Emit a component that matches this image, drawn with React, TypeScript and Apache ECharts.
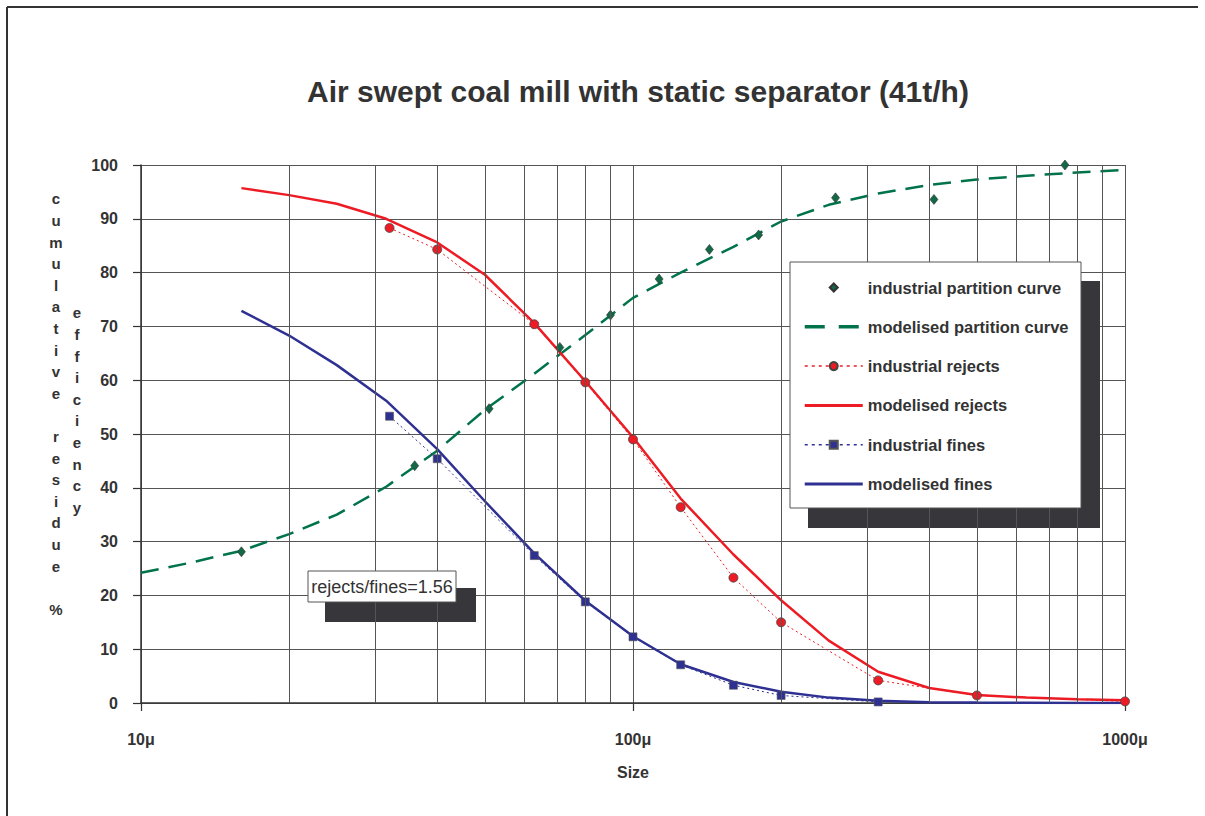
import React, { useEffect, useRef } from "react";
import * as echarts from "echarts";

const FONT = "'Liberation Sans', Arial, Helvetica, sans-serif";

// ---- data ----
const modelSizes = [10, 12.5, 16, 20, 25, 31.5, 40, 50, 63, 80, 100, 125, 160, 200, 250, 315, 400, 500, 630, 800, 1000];
const modelPartition = [24.2, 26.0, 28.3, 31.4, 35.0, 40.2, 46.9, 54.5, 61.2, 68.4, 75.3, 80.0, 84.8, 89.5, 92.6, 94.7, 96.3, 97.3, 98.0, 98.6, 99.1];
const modelRejects = [null, null, 95.7, 94.4, 92.8, 90.0, 85.6, 79.6, 70.6, 59.8, 49.4, 38.0, 27.6, 19.1, 11.6, 5.8, 2.8, 1.5, 1.0, 0.7, 0.5];
const modelFines = [null, null, 72.9, 68.3, 62.8, 56.2, 47.2, 37.5, 27.8, 19.0, 12.4, 7.2, 3.9, 2.1, 1.0, 0.4, 0.15, 0.08, 0.04, 0.02, 0.0];

const partitionSizes = [16, 36, 51, 71, 90, 113, 143, 180, 258, 409, 755];
const partitionValues = [28.1, 44.1, 54.7, 66.1, 72.1, 78.8, 84.3, 87.0, 93.9, 93.6, 100];

const rejectSizes = [32, 40, 63, 80, 100, 125, 160, 200, 315, 500, 1000];
const industrialRejects = [88.3, 84.3, 70.4, 59.6, 49.0, 36.4, 23.3, 15.0, 4.2, 1.4, 0.3];

const fineSizes = [32, 40, 63, 80, 100, 125, 160, 200, 315];
const industrialFines = [53.3, 45.4, 27.4, 18.8, 12.3, 7.1, 3.3, 1.4, 0.2];

const minorGridSizes = [20, 30, 40, 50, 60, 70, 80, 90, 200, 300, 400, 500, 600, 700, 800, 900];
const xRange = [10, 1000];
const yRange = [0, 100];
const yInterval = 10;
const sizeUnit = "μ";

const legendNames = [
  "industrial partition curve",
  "modelised partition curve",
  "industrial rejects",
  "modelised rejects",
  "industrial fines",
  "modelised fines",
];

const titleText = "Air swept coal mill with static separator (41t/h)";
const yNameLeft = "cumulative residue %";
const yNameRight = "efficiency";
const noteText = "rejects/fines=1.56";

const RED = "#ed1c24";
const BLUE = "#2e3192";
const GREEN = "#00734a";
const TEXT = "#333333";

function pairs(xs: number[], ys: (number | null)[]) {
  const out: [number, number][] = [];
  xs.forEach((x, i) => {
    const y = ys[i];
    if (y !== null && y !== undefined) out.push([x, y]);
  });
  return out;
}

function stack(s: string) {
  return s.split("").map((c) => (c === " " ? "" : c)).join("\n");
}

// legend icon styling per entry (line style in the icon, hidden symbol for modelled curves)
const legendIconStyles: Record<string, any> = {
  "industrial partition curve": {},
  "modelised partition curve": { itemStyle: { opacity: 0 }, lineStyle: { width: 3.5, type: [20, 14] } },
  "industrial rejects": { lineStyle: { width: 1.5, type: [3, 4] } },
  "modelised rejects": { itemStyle: { opacity: 0 }, lineStyle: { width: 3 } },
  "industrial fines": { lineStyle: { width: 1.5, type: [3, 4] } },
  "modelised fines": { itemStyle: { opacity: 0 }, lineStyle: { width: 3 } },
};

export default function App() {
  const ref = useRef<HTMLDivElement>(null);

  useEffect(() => {
    if (!ref.current) return;
    const chart = echarts.init(ref.current, undefined, { renderer: "svg" });

    const option: any = {
      animation: false,
      backgroundColor: "#ffffff",
      textStyle: { fontFamily: FONT },
      title: {
        text: titleText,
        left: 633,
        top: 71,
        textAlign: "center",
        textStyle: { fontFamily: FONT, fontSize: 30, fontWeight: "bold", color: TEXT },
      },
      grid: { left: 141, right: 80, top: 165, bottom: 113, containLabel: false },
      xAxis: {
        type: "log",
        logBase: 10,
        min: xRange[0],
        max: xRange[1],
        name: "Size",
        nameLocation: "middle",
        nameGap: 61,
        nameTextStyle: { fontFamily: FONT, fontSize: 16, fontWeight: "bold", color: TEXT },
        axisLine: { show: true, lineStyle: { color: "#333", width: 1.5 } },
        axisTick: { show: true, length: 8, lineStyle: { color: "#333", width: 1.2 } },
        axisLabel: {
          margin: 28,
          fontFamily: FONT,
          fontSize: 16,
          fontWeight: "bold",
          color: TEXT,
          formatter: (v: number) => `${v}${sizeUnit}`,
        },
        splitLine: { show: true, lineStyle: { color: "#555", width: 1 } },
        minorTick: { show: false },
        minorSplitLine: { show: false },
      },
      yAxis: {
        type: "value",
        min: yRange[0],
        max: yRange[1],
        interval: yInterval,
        axisLine: { show: true, lineStyle: { color: "#333", width: 1.5 } },
        axisTick: { show: true, length: 8, lineStyle: { color: "#333", width: 1.2 } },
        axisLabel: { margin: 23, fontFamily: FONT, fontSize: 16, fontWeight: "bold", color: TEXT },
        splitLine: { show: true, lineStyle: { color: "#555", width: 1 } },
      },
      legend: {
        data: legendNames.map((n) => ({ name: n, ...legendIconStyles[n] })),
        orient: "vertical",
        left: 803,
        top: 279,
        padding: 0,
        itemWidth: 58,
        itemHeight: 10,
        itemGap: 22.3,
        selectedMode: false,
        z: 10,
        textStyle: { fontFamily: FONT, fontSize: 16.5, fontWeight: "bold", color: TEXT },
      },
      graphic: [
        // page frame
        { type: "line", z: 1, shape: { x1: 7, y1: 7, x2: 1198, y2: 7 }, style: { stroke: "#333", lineWidth: 2 } },
        { type: "line", z: 1, shape: { x1: 7, y1: 7, x2: 7, y2: 816 }, style: { stroke: "#333", lineWidth: 2 } },
        // legend box with shadow
        { type: "rect", z: 5, shape: { x: 808, y: 281, width: 292, height: 247 }, style: { fill: "#37363b" } },
        { type: "rect", z: 6, shape: { x: 790, y: 262, width: 291, height: 246 }, style: { fill: "#ffffff", stroke: "#555", lineWidth: 1 } },
        // annotation box with shadow
        { type: "rect", z: 5, shape: { x: 325, y: 588, width: 151, height: 34 }, style: { fill: "#37363b" } },
        { type: "rect", z: 6, shape: { x: 308, y: 571, width: 148, height: 31 }, style: { fill: "#ffffff", stroke: "#555", lineWidth: 1 } },
        {
          type: "text",
          z: 7,
          x: 382,
          y: 587,
          style: { text: noteText, textAlign: "center", textVerticalAlign: "middle", fontFamily: FONT, fontSize: 18, fill: TEXT },
        },
        // stacked y axis names
        {
          type: "text",
          z: 7,
          x: 56,
          y: 188,
          style: {
            text: stack(yNameLeft),
            textAlign: "center",
            textVerticalAlign: "top",
            fontFamily: FONT,
            fontSize: 15,
            fontWeight: "bold",
            lineHeight: 21.6,
            fill: TEXT,
          },
        },
        {
          type: "text",
          z: 7,
          x: 77,
          y: 302,
          style: {
            text: stack(yNameRight),
            textAlign: "center",
            textVerticalAlign: "top",
            fontFamily: FONT,
            fontSize: 15,
            fontWeight: "bold",
            lineHeight: 21.6,
            fill: TEXT,
          },
        },
      ],
      series: [
        {
          name: "grid",
          type: "line",
          data: [],
          silent: true,
          z: 1,
          markLine: {
            silent: true,
            symbol: ["none", "none"],
            label: { show: false },
            emphasis: { disabled: true },
            lineStyle: { color: "#555", width: 1, type: "solid" },
            data: minorGridSizes.map((v) => ({ xAxis: v })),
          },
        },
        {
          name: "modelised partition curve",
          type: "line",
          data: pairs(modelSizes, modelPartition),
          symbol: "none",
          z: 3,
          lineStyle: { color: GREEN, width: 2.5, type: [18, 10] },
          itemStyle: { color: GREEN },
        },
        {
          name: "modelised rejects",
          type: "line",
          data: pairs(modelSizes, modelRejects),
          symbol: "none",
          z: 3,
          lineStyle: { color: RED, width: 2.5 },
          itemStyle: { color: RED },
        },
        {
          name: "modelised fines",
          type: "line",
          data: pairs(modelSizes, modelFines),
          symbol: "none",
          z: 3,
          lineStyle: { color: BLUE, width: 2.5 },
          itemStyle: { color: BLUE },
        },
        {
          name: "industrial rejects",
          type: "line",
          data: pairs(rejectSizes, industrialRejects),
          symbol: "circle",
          symbolSize: 9,
          z: 4,
          lineStyle: { color: RED, width: 1, type: [2, 3] },
          itemStyle: { color: RED, borderColor: "#444", borderWidth: 0.8 },
        },
        {
          name: "industrial fines",
          type: "line",
          data: pairs(fineSizes, industrialFines),
          symbol: "rect",
          symbolSize: 8,
          z: 4,
          lineStyle: { color: BLUE, width: 1, type: [2, 3] },
          itemStyle: { color: BLUE, borderColor: "#555", borderWidth: 0.6 },
        },
        {
          name: "industrial partition curve",
          type: "line",
          data: pairs(partitionSizes, partitionValues),
          symbol: "diamond",
          symbolSize: [8, 10],
          z: 4,
          lineStyle: { width: 0, opacity: 0 },
          itemStyle: { color: "#136846", borderColor: "#333", borderWidth: 0.6, opacity: 1 },
        },
      ],
    };

    chart.setOption(option);
    return () => chart.dispose();
  }, []);

  return (
    <div
      ref={ref}
      style={{ position: "fixed", left: 0, top: 0, width: 1205, height: 816, background: "#fff" }}
    />
  );
}
